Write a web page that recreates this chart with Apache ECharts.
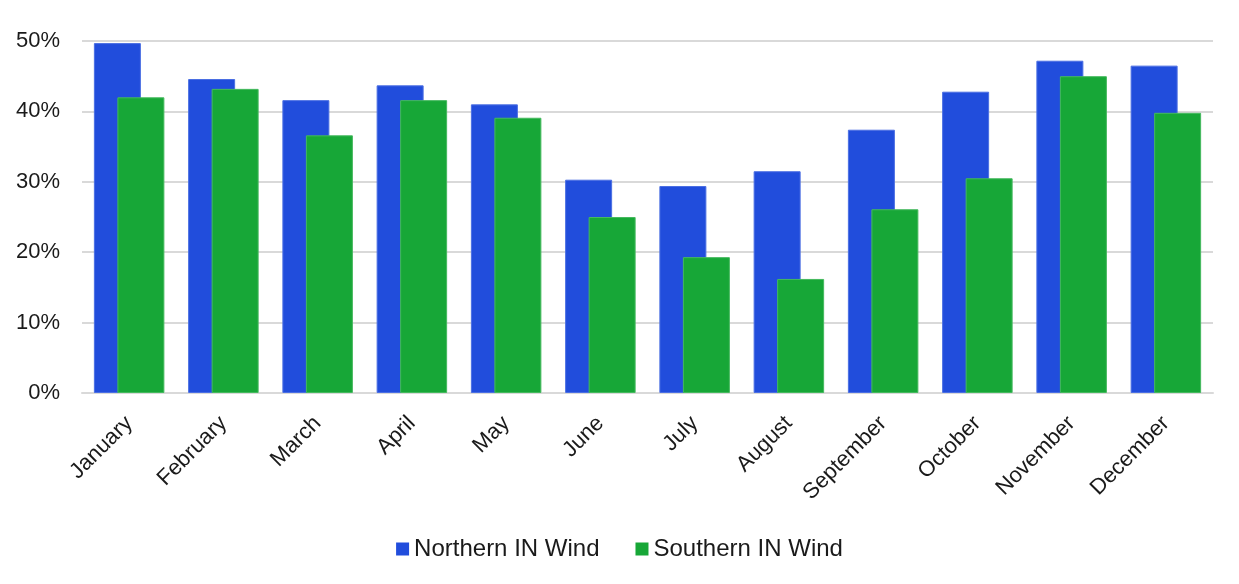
<!DOCTYPE html>
<html>
<head>
<meta charset="utf-8">
<script src="https://cdn.jsdelivr.net/npm/echarts@6/dist/echarts.min.js"></script>
<style>
  html, body { margin: 0; padding: 0; background: #ffffff; }
  #chart { width: 1239px; height: 584px; }
</style>
</head>
<body>
<div id="chart"></div>
<script>
// Monthly capacity factor by region (percent)
const months = ['January', 'February', 'March', 'April', 'May', 'June',
  'July', 'August', 'September', 'October', 'November', 'December'];
const northernWind = [49.7, 44.6, 41.6, 43.7, 41.0, 30.3, 29.4, 31.5, 37.4, 42.8, 47.2, 46.5];
const southernWind = [42.0, 43.2, 36.6, 41.6, 39.1, 25.0, 19.3, 16.2, 26.1, 30.5, 45.0, 39.8];
const seriesNames = ['Northern IN Wind', 'Southern IN Wind'];

const fontFamily = '"Liberation Sans", Arial, sans-serif';
const textColor = '#1a1a1a';
const chart = echarts.init(document.getElementById('chart'), null, { renderer: 'canvas' });

chart.setOption({
  animation: false,
  textStyle: { fontFamily: fontFamily },
  grid: { left: 82, right: 26, top: 41, bottom: 191, containLabel: false },
  legend: {
    top: 532,
    left: 'center',
    itemWidth: 13,
    itemHeight: 13,
    itemGap: 36,
    icon: 'rect',
    itemStyle: { borderWidth: 0 },
    textStyle: { fontSize: 24, color: textColor, fontFamily: fontFamily },
    data: seriesNames
  },
  xAxis: {
    type: 'category',
    data: months,
    axisLine: { lineStyle: { color: '#d9d9d9', width: 2 } },
    axisTick: { show: false },
    axisLabel: {
      rotate: 45,
      fontSize: 22,
      color: textColor,
      margin: 27,
      fontFamily: fontFamily
    }
  },
  yAxis: {
    type: 'value',
    min: 0,
    max: 50,
    interval: 10,
    axisLine: { show: false },
    axisTick: { show: false },
    splitLine: { lineStyle: { color: '#d9d9d9', width: 2 } },
    axisLabel: {
      formatter: '{value}%',
      fontSize: 22,
      color: textColor,
      margin: 22,
      fontFamily: fontFamily
    }
  },
  series: [
    {
      name: seriesNames[0],
      type: 'bar',
      data: northernWind,
      barWidth: 47,
      barGap: '-50%',
      itemStyle: { color: '#214ddc', borderColor: '#4b6fe3', borderWidth: 1 }
    },
    {
      name: seriesNames[1],
      type: 'bar',
      data: southernWind,
      barWidth: 47,
      barGap: '-50%',
      itemStyle: { color: '#17a737', borderColor: '#45b95e', borderWidth: 1 }
    }
  ]
});
</script>
</body>
</html>
